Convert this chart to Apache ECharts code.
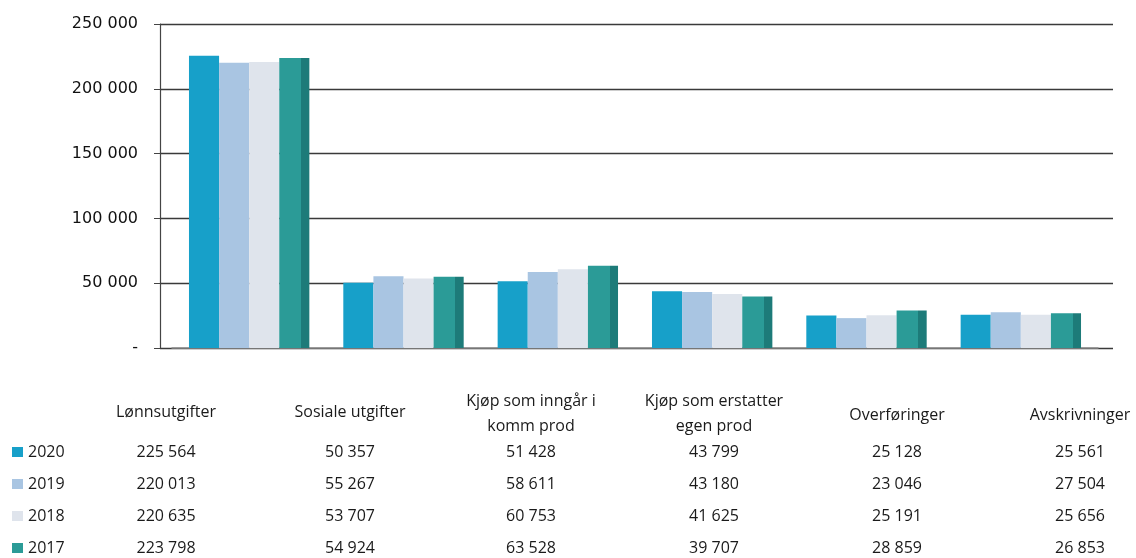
<!DOCTYPE html>
<html>
<head>
<meta charset="utf-8">
<script src="https://cdn.jsdelivr.net/npm/echarts@6/dist/echarts.min.js"></script>
<style>
  html, body { margin: 0; padding: 0; background: #fff; }
  #chart { width: 1136px; height: 558px; }
</style>
</head>
<body>
<div id="chart"></div>
<script>
// Driftsutgifter per art, 2017–2020 (tusen kroner)
const categories = ['Lønnsutgifter', 'Sosiale utgifter', 'Kjøp som inngår i\nkomm prod', 'Kjøp som erstatter\negen prod', 'Overføringer', 'Avskrivninger'];
const years = ['2020', '2019', '2018', '2017'];
const values2020 = [225564, 50357, 51428, 43799, 25128, 25561];
const values2019 = [220013, 55267, 58611, 43180, 23046, 27504];
const values2018 = [220635, 53707, 60753, 41625, 25191, 25656];
const values2017 = [223798, 54924, 63528, 39707, 28859, 26853];
const yTicks = [0, 50000, 100000, 150000, 200000, 250000];

const seriesValues = [values2020, values2019, values2018, values2017];
const colors = ['#17a0c9', '#a9c5e2', '#dfe4ec', '#2b9b97'];

function fmt(v) {
  return v === 0 ? '-' : String(v).replace(/\B(?=(\d{3})+(?!\d))/g, ' ');
}

// Last bar in each group shows its shaded side face
const sideShade = {
  type: 'linear', x: 0, y: 0, x2: 1, y2: 0,
  colorStops: [
    { offset: 0, color: '#2b9b97' }, { offset: 0.72, color: '#2b9b97' },
    { offset: 0.72, color: '#1d7b79' }, { offset: 1, color: '#1d7b79' }
  ]
};

const series = years.map((y, i) => ({
  name: y,
  type: 'bar',
  xAxisIndex: 1,
  yAxisIndex: 1,
  barGap: '0%',
  barCategoryGap: '22%',
  data: seriesValues[i],
  itemStyle: { color: i === 3 ? sideShade : colors[i] }
}));

// Data table below the plot
const tableFont = '"Open Sans", sans-serif';
const colX = [166, 350, 531, 714, 897, 1080];
const rowY = [452, 484, 516, 548];
const graphics = [];
categories.forEach((c, ci) => {
  const twoLine = c.indexOf('\n') >= 0;
  graphics.push({
    type: 'text', x: colX[ci], y: twoLine ? 414 : (ci >= 4 ? 415 : 412),
    style: { text: c, x: 0, y: 0, textAlign: 'center', textVerticalAlign: 'middle',
      font: '16px ' + tableFont, fill: '#1a1a1a', lineHeight: 25 }
  });
  seriesValues.forEach((vals, si) => {
    graphics.push({
      type: 'text', x: colX[ci], y: rowY[si],
      style: { text: fmt(vals[ci]), textAlign: 'center', textVerticalAlign: 'middle',
        font: '16px ' + tableFont, fill: '#1a1a1a' }
    });
  });
});

const chart = echarts.init(document.getElementById('chart'));
chart.setOption({
  animation: false,
  backgroundColor: '#ffffff',
  grid: [
    { left: 160, right: 23, top: 24, bottom: 210 },
    { left: 172, right: 38, top: 24, bottom: 210 }
  ],
  legend: {
    orient: 'vertical', left: 12, top: 444, padding: 0,
    itemWidth: 11, itemHeight: 10, itemGap: 16,
    icon: 'rect',
    textStyle: { fontFamily: tableFont, fontSize: 16, color: '#1a1a1a', lineHeight: 16 },
    data: years.map((y, i) => ({ name: y, itemStyle: { color: colors[i] } }))
  },
  xAxis: [
    { gridIndex: 0, type: 'category', data: categories, show: false },
    { gridIndex: 1, type: 'category', data: categories,
      axisLine: { show: true, lineStyle: { color: '#8a8a8a', width: 1.5 } },
      axisTick: { show: false }, axisLabel: { show: false } }
  ],
  yAxis: [
    { gridIndex: 0, type: 'value', min: 0, max: 250000, interval: 50000,
      axisLine: { show: true, lineStyle: { color: '#444', width: 1.2 } },
      axisTick: { show: true, length: 6, lineStyle: { color: '#444' } },
      axisLabel: { margin: 22, color: '#111', fontFamily: '"DejaVu Sans", sans-serif', fontSize: 16,
        formatter: v => fmt(v) },
      splitLine: { show: true, lineStyle: { color: '#3a3a3a', width: 1.3 } }
    },
    { gridIndex: 1, type: 'value', min: 0, max: 250000, interval: 50000, show: false,
      splitLine: { show: false } }
  ],
  series: series,
  graphic: graphics
});
</script>
</body>
</html>
